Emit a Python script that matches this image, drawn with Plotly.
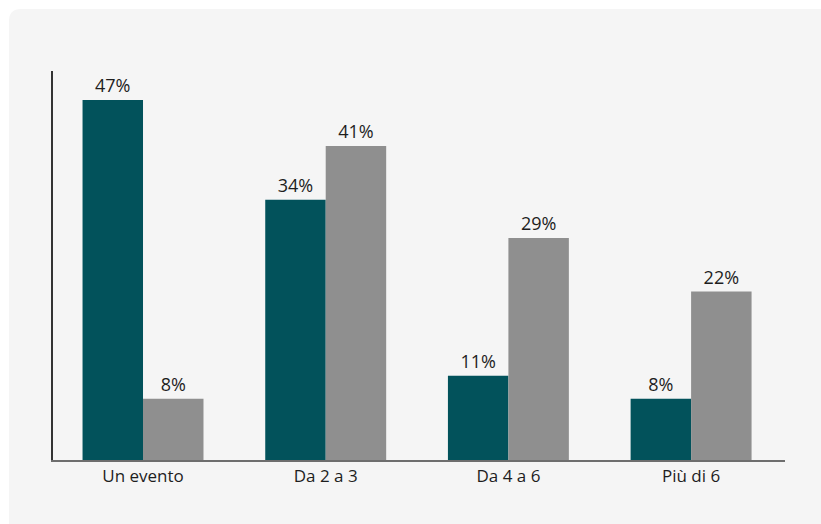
import plotly.graph_objects as go

categories = ["Un evento", "Da 2 a 3", "Da 4 a 6", "Più di 6"]
serie_a = [47, 34, 11, 8]
serie_b = [8, 41, 29, 22]

W, H = 821, 524
L, R, T, B = 53, 36, 71, 64
pw, ph = W - L - R, H - T - B

TEAL = "#02525b"
GRAY = "#8f8f8f"
FONT = "Open Sans"
TXT = "#1e1e1e"


def px_x(p):
    return (p - L) / pw


def px_y(p):
    return (H - B - p) / ph


# rounded light panel behind the chart
x0, x1 = px_x(9), px_x(840)
y0, y1 = px_y(540), px_y(9)
rx, ry = 12 / pw, 12 / ph
panel = (
    f"M {x0},{y0} L {x0},{y1 - ry} Q {x0},{y1} {x0 + rx},{y1} "
    f"L {x1},{y1} L {x1},{y0} Z"
)

fig = go.Figure()
for vals, col in [(serie_a, TEAL), (serie_b, GRAY)]:
    fig.add_trace(go.Bar(
        x=categories, y=vals, marker=dict(color=col, line=dict(width=0)),
        text=[f"{v}%" for v in vals], textposition="outside",
        constraintext="none",
        textfont=dict(family=FONT, size=18, color=TXT),
        cliponaxis=False, showlegend=False,
    ))

fig.update_layout(
    width=W, height=H, barmode="group", bargap=0.338, bargroupgap=0,
    margin=dict(l=L, r=R, t=T, b=B),
    paper_bgcolor="white", plot_bgcolor="rgba(0,0,0,0)",
    font=dict(family=FONT, size=17, color=TXT),
    shapes=[dict(type="path", path=panel, xref="paper", yref="paper",
                 fillcolor="#f5f5f5", line=dict(width=0), layer="below")],
    xaxis=dict(showline=True, linecolor="#6e6e6e", linewidth=2, ticks="",
               showgrid=False, range=[-0.4927, 3.514],
               tickfont=dict(family=FONT, size=17, color=TXT)),
    yaxis=dict(showline=True, linecolor="#333333", linewidth=1.5, ticks="",
               showgrid=False, zeroline=False, showticklabels=False,
               range=[0, 50.8]),
)

fig.write_html("out.html")
